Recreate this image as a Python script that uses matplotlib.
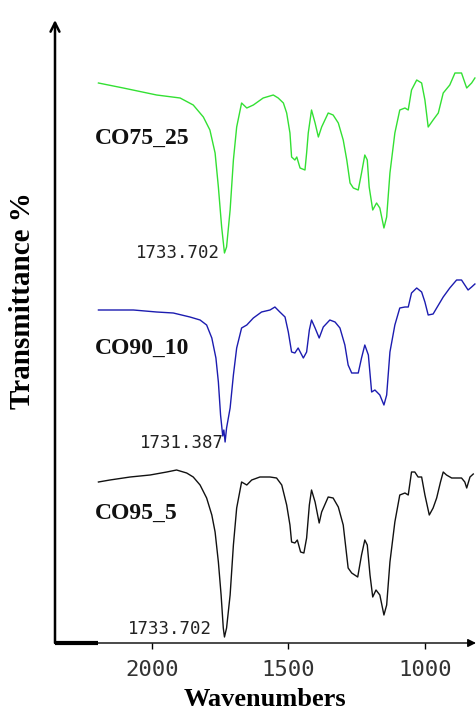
import matplotlib
matplotlib.use("Agg")
import matplotlib.pyplot as plt
import numpy as np

# FTIR spectra (carbonyl region), transmittance in arbitrary units incl. stacking offset
wn_co75 = [2195, 2104, 1982, 1896, 1848, 1811, 1787, 1768, 1756, 1744, 1733.702, 1726,
           1713, 1701, 1689, 1671, 1652, 1628, 1592, 1555, 1537, 1518, 1506, 1494, 1488,
           1476, 1469, 1457, 1439, 1433, 1427, 1415, 1402, 1390, 1378, 1354, 1336, 1317,
           1299, 1286, 1274, 1262, 1244, 1232, 1220, 1211, 1204, 1191, 1177, 1165, 1150,
           1140, 1128, 1110, 1092, 1073, 1061, 1049, 1030, 1012, 1000, 988, 970, 951, 933,
           909, 890, 866, 847, 829, 817]
t_co75 = [560, 555, 548, 545, 538, 526, 513, 490, 456, 416, 390, 396,
          433, 483, 516, 540, 535, 538, 545, 548, 545, 540, 530, 510, 486,
          483, 486, 475, 473, 490, 510, 533, 520, 506, 516, 530, 528, 520,
          503, 483, 460, 455, 453, 470, 488, 483, 456, 433, 440, 435, 415,
          426, 470, 510, 533, 535, 533, 553, 563, 560, 543, 516, 523, 530, 550,
          558, 570, 570, 555, 560, 565]

wn_co90 = [2195, 2067, 1982, 1921, 1860, 1823, 1799, 1780, 1765, 1756, 1748, 1740, 1736,
           1731.387, 1726, 1713, 1701, 1689, 1671, 1652, 1628, 1598, 1567, 1549, 1531,
           1512, 1500, 1488, 1476, 1464, 1445, 1433, 1423, 1415, 1402, 1387, 1372, 1348,
           1329, 1311, 1293, 1281, 1268, 1244, 1232, 1220, 1207, 1195, 1183, 1165, 1150,
           1140, 1128, 1110, 1092, 1073, 1061, 1049, 1030, 1012, 1000, 988, 970, 957, 933,
           909, 884, 866, 842, 829, 817]
t_co90 = [333, 333, 331, 330, 326, 323, 318, 305, 285, 261, 228, 207, 213,
          201, 215, 235, 268, 295, 315, 318, 325, 331, 333, 336, 331,
          326, 311, 291, 290, 295, 285, 291, 313, 323, 315, 305, 316, 323,
          321, 315, 298, 278, 270, 270, 285, 298, 288, 251, 253, 248, 238,
          248, 291, 318, 335, 336, 336, 350, 355, 351, 341, 328, 329, 335, 346,
          355, 363, 363, 353, 356, 359]

wn_co95 = [2195, 2153, 2079, 2006, 1945, 1909, 1872, 1848, 1823, 1799, 1780, 1768, 1756,
           1746, 1738, 1733.702, 1726, 1713, 1701, 1689, 1671, 1652, 1634, 1604, 1567,
           1543, 1524, 1506, 1494, 1488, 1476, 1467, 1455, 1443, 1433, 1423, 1415, 1402,
           1387, 1378, 1354, 1336, 1317, 1299, 1281, 1268, 1246, 1232, 1220, 1211, 1201,
           1191, 1179, 1165, 1150, 1140, 1128, 1110, 1092, 1073, 1061, 1049, 1037, 1025,
           1012, 1000, 984, 970, 957, 943, 933, 921, 902, 866, 854, 847, 835, 823]
t_co95 = [161, 163, 166, 168, 171, 173, 170, 166, 158, 145, 128, 111, 81,
          48, 15, 6, 15, 48, 98, 135, 161, 158, 163, 166, 166,
          165, 158, 138, 118, 101, 100, 103, 91, 90, 105, 138, 153, 141,
          120, 131, 146, 145, 136, 118, 75, 70, 66, 88, 103, 98, 68,
          46, 53, 48, 28, 38, 81, 121, 148, 150, 148, 171, 171, 166,
          166, 148, 128, 135, 145, 161, 171, 168, 165, 165, 161, 155, 166, 169]

names = ["CO75_25", "CO90_10", "CO95_5"]
colors = ["#33e033", "#1c1cb0", "#111111"]
name_pos = [(2207, 505), (2207, 295), (2207, 130)]
peak_wn = [1733.702, 1731.387, 1733.702]
peak_offsets = [(-3, 0), (-1, -1), (-9, 6)]

spectra = [(wn_co75, t_co75), (wn_co90, t_co90), (wn_co95, t_co95)]

fig = plt.figure(figsize=(4.76, 7.11), dpi=100)
ax = fig.add_axes([55 / 476, 68 / 711, 421 / 476, 623 / 711])
ax.set_xlim(2354, 813)
ax.set_ylim(0, 623)

for (wn, t), c, nm, npos, pk, off in zip(spectra, colors, names, name_pos, peak_wn, peak_offsets):
    wn = np.array(wn)
    t = np.array(t)
    ax.plot(wn, t, color=c, lw=1.0)
    ax.text(npos[0], npos[1], nm, family="Liberation Serif", fontweight="bold",
            fontsize=17, ha="left", va="center", color="#111111")
    i = int(np.argmin(t))
    ax.annotate(f"{pk:.3f}", xy=(wn[i], t[i]), xytext=off, textcoords="offset points",
                ha="right", va="center", family="DejaVu Sans Mono", fontsize=12.5,
                color="#222222")

# axes drawn as arrows
for s in ax.spines.values():
    s.set_visible(False)
ax.annotate("", xy=(0, 1.0), xytext=(0, 0), xycoords="axes fraction",
            arrowprops=dict(arrowstyle="->", lw=1.8, color="black", mutation_scale=16,
                            shrinkA=0, shrinkB=0))
ax.annotate("", xy=(1.0, 0), xytext=(0, 0), xycoords="axes fraction",
            arrowprops=dict(arrowstyle="-|>", lw=1.0, color="black", mutation_scale=12,
                            shrinkA=0, shrinkB=0))
ax.plot([ax.get_xlim()[0], wn_co95[0]], [0, 0], color="black", lw=3, clip_on=False,
        solid_capstyle="butt")

ax.set_yticks([])
ax.set_xticks([2000, 1500, 1000])
ax.tick_params(axis="x", direction="out", length=4, width=1, pad=8,
               labelsize=16, labelcolor="#333333")
for lab in ax.get_xticklabels():
    lab.set_family("DejaVu Sans Mono")

fig.text(265 / 476, 1 - 700 / 711, "Wavenumbers", family="Liberation Serif",
         fontweight="bold", fontsize=19, ha="center", va="center")
fig.text(23 / 476, 1 - 301 / 711, "Transmittance %", family="Liberation Serif",
         fontweight="bold", fontsize=21, rotation=90, ha="center", va="center")

plt.savefig("out.png", dpi=100)
